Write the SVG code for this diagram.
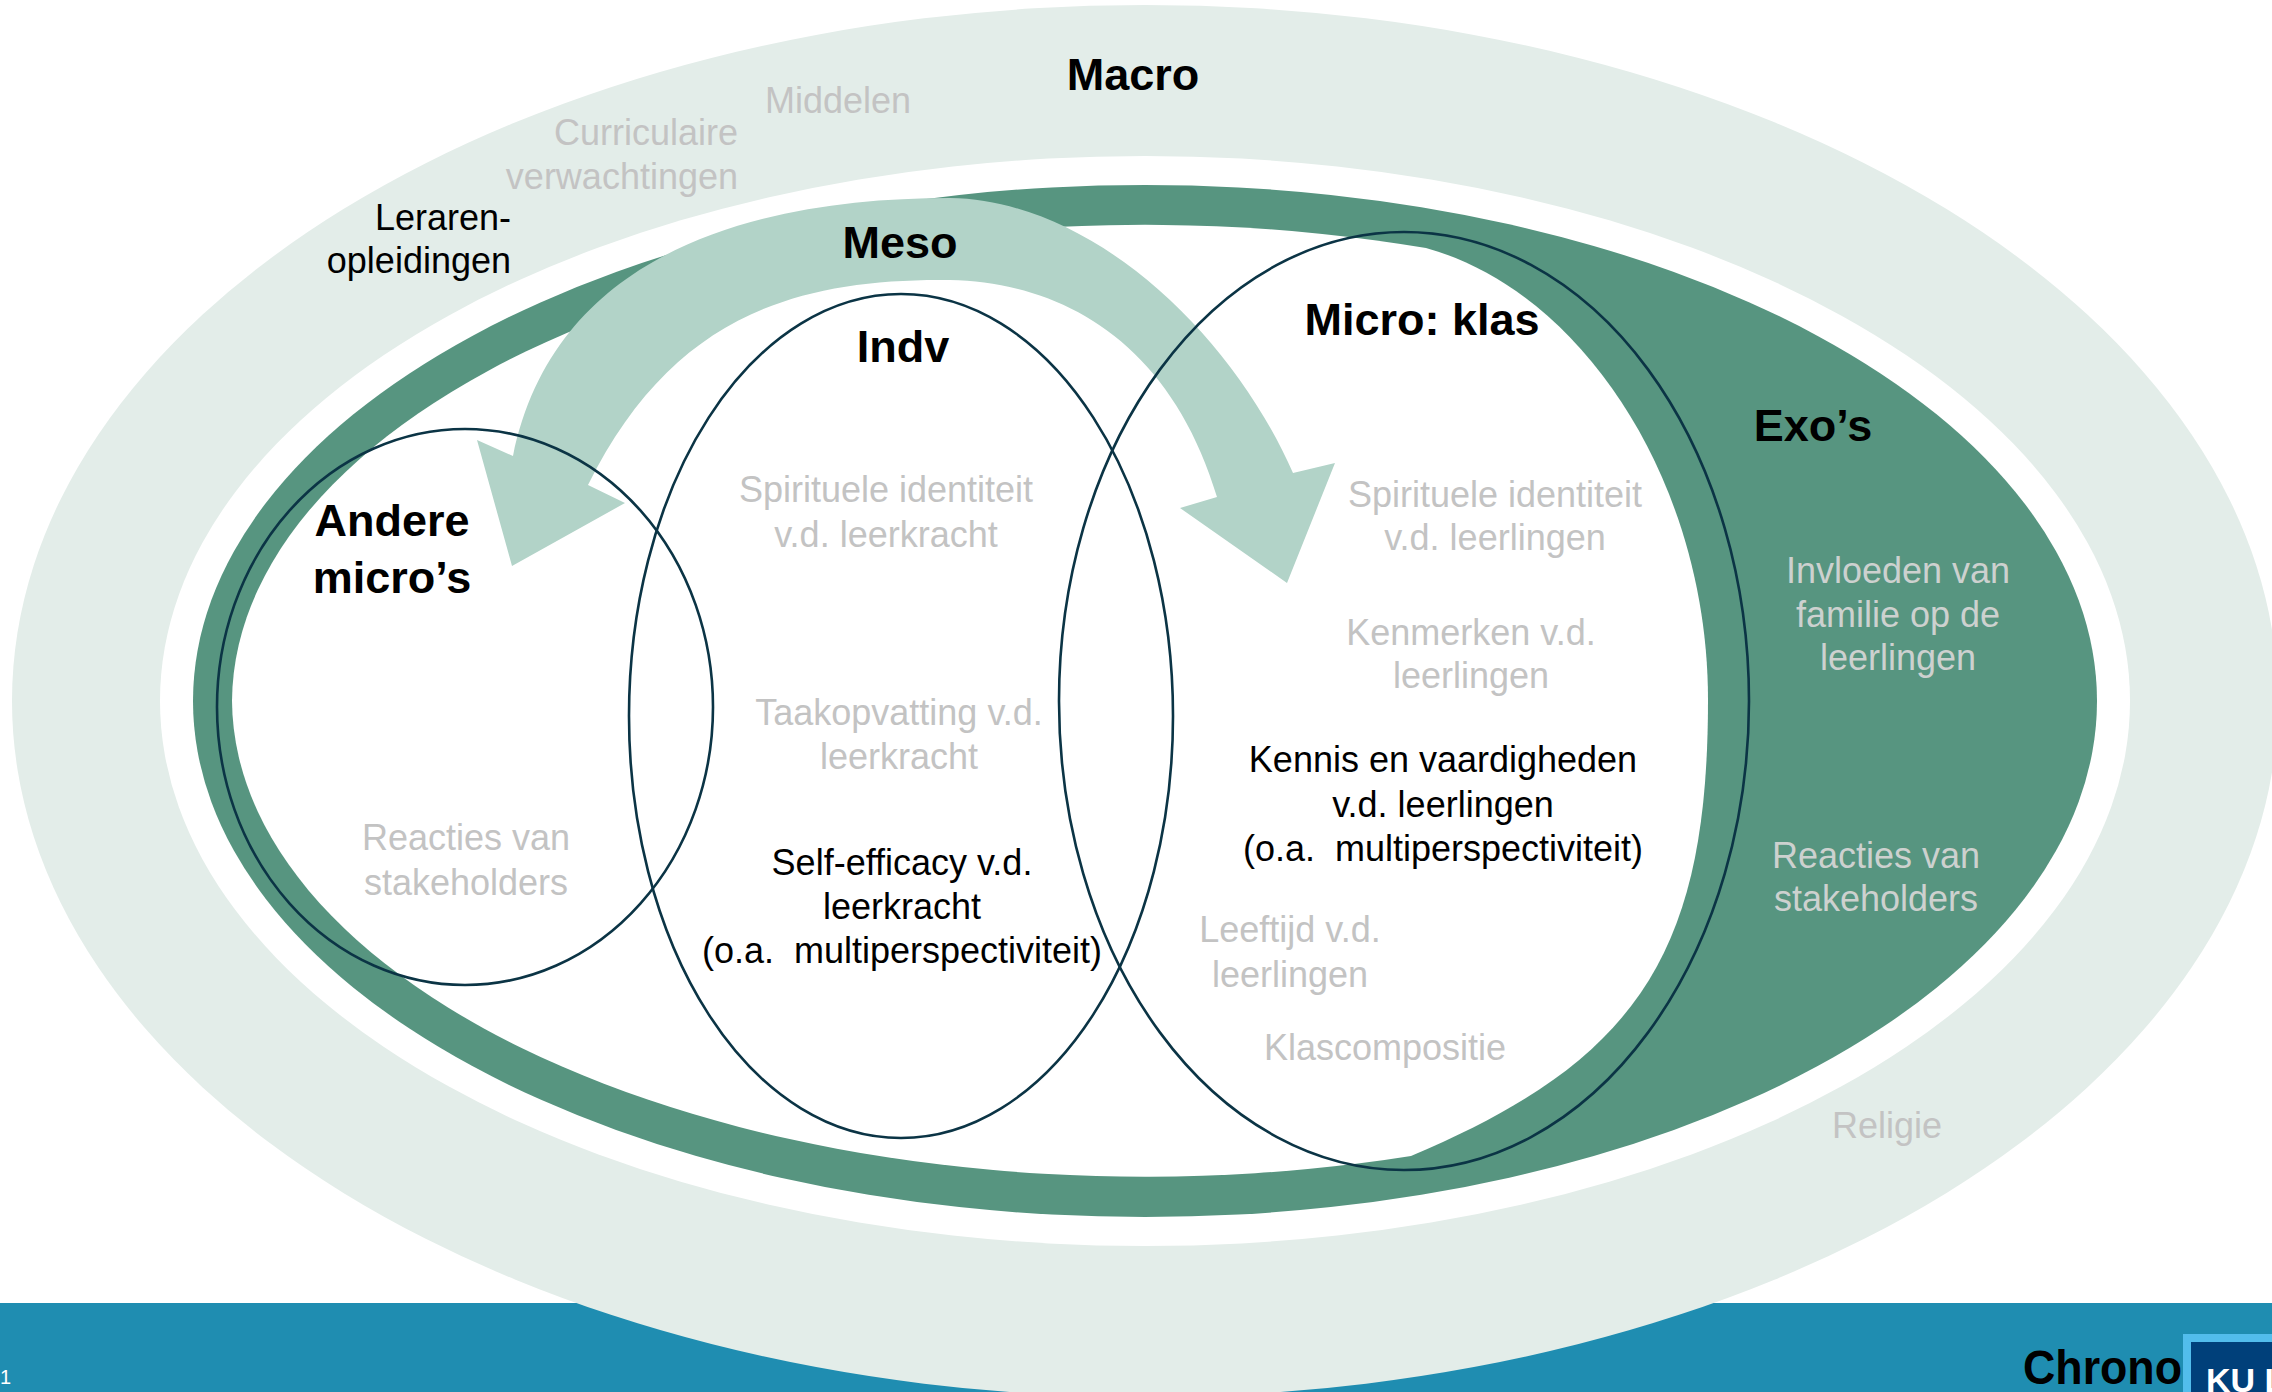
<svg xmlns="http://www.w3.org/2000/svg" width="2272" height="1392" viewBox="0 0 2272 1392">
<style>
text{font-family:"Liberation Sans",Arial,sans-serif;white-space:pre}
.h{font-size:45px;font-weight:bold;fill:#000;text-anchor:middle}
.g{font-size:36px;fill:#c3c3c3;text-anchor:middle}
.gd{font-size:36px;fill:#cdd1cf;text-anchor:middle}
.b{font-size:36px;fill:#000;text-anchor:middle}
.r{text-anchor:end}
.ol{fill:none;stroke:#0b3445;stroke-width:2.6}
</style>
<rect x="0" y="0" width="2272" height="1392" fill="#fff"/>
<rect id="footer-bar" x="0" y="1303" width="2272" height="89" fill="#1f8db1"/>
<g id="macro">
<ellipse cx="1145" cy="701" rx="1133" ry="696" fill="#e3ede9"/>
<ellipse cx="1145" cy="701" rx="985" ry="545" fill="#fff"/>
</g>
<g id="exo">
<ellipse cx="1145" cy="701" rx="952" ry="516" fill="#579580"/>
<path d="M 232,701 A 913 478 0 0 1 1426,248 C 1580,290 1708,480 1708,700 C 1708,950 1640,1060 1411,1156 A 913 478 0 0 1 232,701 Z" fill="#fff"/>
</g>
<g id="connectors">
<path id="meso-arrow" d="M 513,456 C 555,250 760,198 950,198 C 1090,200 1230,330 1293,473 L 1335,463 L 1287,583 L 1180,508 L 1217,497 C 1170,340 1060,282 950,280 C 790,278 670,320 588,485 L 625,503 L 512,566 L 477,440 Z" fill="#b2d3c8"/>
</g>
<g id="andere-micros"><ellipse class="ol" cx="465" cy="707" rx="248" ry="278"/></g>
<g id="indv"><ellipse class="ol" cx="901" cy="716" rx="272" ry="422"/></g>
<g id="micro-klas"><ellipse class="ol" cx="1404" cy="701" rx="345" ry="469"/></g>
<g id="labels-macro">
<text class="h" x="1133" y="90">Macro</text>
<text class="g" x="838" y="113">Middelen</text>
<text class="g r" x="738" y="145">Curriculaire</text>
<text class="g r" x="738" y="189">verwachtingen</text>
<text class="b r" x="511" y="230">Leraren-</text>
<text class="b r" x="511" y="273">opleidingen</text>
<text class="g" x="1887" y="1138">Religie</text>
</g>
<g id="labels-meso">
<text class="h" x="900" y="258">Meso</text>
</g>
<g id="labels-andere">
<text class="h" x="392" y="536">Andere</text>
<text class="h" x="392" y="593">micro’s</text>
<text class="g" x="466" y="850">Reacties van</text>
<text class="g" x="466" y="895">stakeholders</text>
</g>
<g id="labels-indv">
<text class="h" x="903" y="362">Indv</text>
<text class="g" x="886" y="502">Spirituele identiteit</text>
<text class="g" x="886" y="547">v.d. leerkracht</text>
<text class="g" x="899" y="725">Taakopvatting v.d.</text>
<text class="g" x="899" y="769">leerkracht</text>
<text class="b" x="902" y="875">Self-efficacy v.d.</text>
<text class="b" x="902" y="919">leerkracht</text>
<text class="b" x="902" y="963">(o.a.  multiperspectiviteit)</text>
</g>
<g id="labels-micro-klas">
<text class="h" x="1422" y="335">Micro: klas</text>
<text class="g" x="1495" y="507">Spirituele identiteit</text>
<text class="g" x="1495" y="550">v.d. leerlingen</text>
<text class="g" x="1471" y="645">Kenmerken v.d.</text>
<text class="g" x="1471" y="688">leerlingen</text>
<text class="b" x="1443" y="772">Kennis en vaardigheden</text>
<text class="b" x="1443" y="817">v.d. leerlingen</text>
<text class="b" x="1443" y="861">(o.a.  multiperspectiviteit)</text>
<text class="g" x="1290" y="942">Leeftijd v.d.</text>
<text class="g" x="1290" y="987">leerlingen</text>
<text class="g" x="1385" y="1060">Klascompositie</text>
</g>
<g id="labels-exo">
<text class="h" x="1813" y="441">Exo’s</text>
<text class="gd" x="1898" y="583">Invloeden van</text>
<text class="gd" x="1898" y="627">familie op de</text>
<text class="gd" x="1898" y="670">leerlingen</text>
<text class="gd" x="1876" y="868">Reacties van</text>
<text class="gd" x="1876" y="911">stakeholders</text>
</g>
<g id="footer">
<text x="0" y="1384" font-size="20" fill="#fff">1</text>
<text x="2023" y="1384" font-size="48" font-weight="bold" fill="#000" textLength="159" lengthAdjust="spacingAndGlyphs">Chrono</text>
<rect x="2183" y="1334" width="89" height="58" fill="#52bdec"/>
<rect x="2191" y="1342" width="81" height="50" fill="#00407a"/>
<text x="2206" y="1392" font-size="34" font-weight="bold" fill="#fff">KU L</text>
</g>
</svg>
